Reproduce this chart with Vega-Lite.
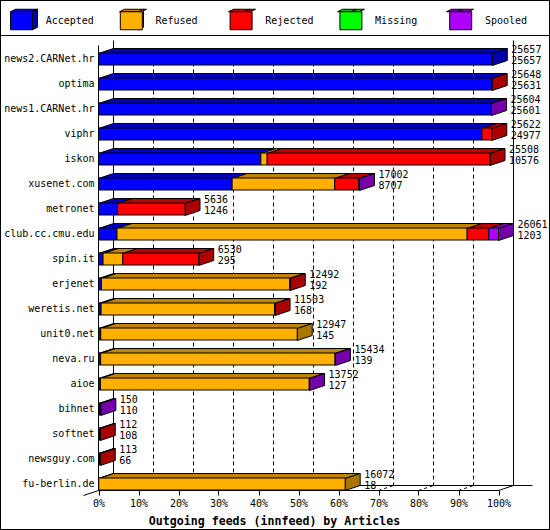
{
"$schema":"https://vega.github.io/schema/vega-lite/v6.json",
"width":550,"height":530,"padding":0,"autosize":"none",
"background":"white",
"view":{"stroke":"black","strokeWidth":2,"fill":"white"},
"config":{"font":"DejaVu Sans Mono"},
"datasets":{
"segments":[
{"feed":"news2.CARNet.hr","row":0,"status":"Accepted","articles":25657},
{"feed":"optima","row":1,"status":"Accepted","articles":25631},
{"feed":"optima","row":1,"status":"Rejected","articles":17},
{"feed":"news1.CARNet.hr","row":2,"status":"Accepted","articles":25601},
{"feed":"news1.CARNet.hr","row":2,"status":"Spooled","articles":3},
{"feed":"viphr","row":3,"status":"Accepted","articles":24977},
{"feed":"viphr","row":3,"status":"Rejected","articles":645},
{"feed":"iskon","row":4,"status":"Accepted","articles":10576},
{"feed":"iskon","row":4,"status":"Refused","articles":414},
{"feed":"iskon","row":4,"status":"Rejected","articles":14518},
{"feed":"xusenet.com","row":5,"status":"Accepted","articles":8707},
{"feed":"xusenet.com","row":5,"status":"Refused","articles":6689},
{"feed":"xusenet.com","row":5,"status":"Rejected","articles":1564},
{"feed":"xusenet.com","row":5,"status":"Spooled","articles":42},
{"feed":"metronet","row":6,"status":"Accepted","articles":1246},
{"feed":"metronet","row":6,"status":"Rejected","articles":4390},
{"feed":"club.cc.cmu.edu","row":7,"status":"Accepted","articles":1203},
{"feed":"club.cc.cmu.edu","row":7,"status":"Refused","articles":22817},
{"feed":"club.cc.cmu.edu","row":7,"status":"Rejected","articles":1410},
{"feed":"club.cc.cmu.edu","row":7,"status":"Spooled","articles":631},
{"feed":"spin.it","row":8,"status":"Accepted","articles":295},
{"feed":"spin.it","row":8,"status":"Refused","articles":1288},
{"feed":"spin.it","row":8,"status":"Rejected","articles":4947},
{"feed":"erjenet","row":9,"status":"Accepted","articles":192},
{"feed":"erjenet","row":9,"status":"Refused","articles":12280},
{"feed":"erjenet","row":9,"status":"Rejected","articles":20},
{"feed":"weretis.net","row":10,"status":"Accepted","articles":168},
{"feed":"weretis.net","row":10,"status":"Refused","articles":11315},
{"feed":"weretis.net","row":10,"status":"Rejected","articles":20},
{"feed":"unit0.net","row":11,"status":"Accepted","articles":145},
{"feed":"unit0.net","row":11,"status":"Refused","articles":12802},
{"feed":"neva.ru","row":12,"status":"Accepted","articles":139},
{"feed":"neva.ru","row":12,"status":"Refused","articles":15275},
{"feed":"neva.ru","row":12,"status":"Spooled","articles":20},
{"feed":"aioe","row":13,"status":"Accepted","articles":127},
{"feed":"aioe","row":13,"status":"Refused","articles":13605},
{"feed":"aioe","row":13,"status":"Spooled","articles":20},
{"feed":"bihnet","row":14,"status":"Accepted","articles":110},
{"feed":"bihnet","row":14,"status":"Spooled","articles":40},
{"feed":"softnet","row":15,"status":"Accepted","articles":108},
{"feed":"softnet","row":15,"status":"Rejected","articles":4},
{"feed":"newsguy.com","row":16,"status":"Accepted","articles":66},
{"feed":"newsguy.com","row":16,"status":"Rejected","articles":47},
{"feed":"fu-berlin.de","row":17,"status":"Accepted","articles":18},
{"feed":"fu-berlin.de","row":17,"status":"Refused","articles":16054}
],
"feeds":[
{"feed":"news2.CARNet.hr","offered":25657,"accepted":25657},
{"feed":"optima","offered":25648,"accepted":25631},
{"feed":"news1.CARNet.hr","offered":25604,"accepted":25601},
{"feed":"viphr","offered":25622,"accepted":24977},
{"feed":"iskon","offered":25508,"accepted":10576},
{"feed":"xusenet.com","offered":17002,"accepted":8707},
{"feed":"metronet","offered":5636,"accepted":1246},
{"feed":"club.cc.cmu.edu","offered":26061,"accepted":1203},
{"feed":"spin.it","offered":6530,"accepted":295},
{"feed":"erjenet","offered":12492,"accepted":192},
{"feed":"weretis.net","offered":11503,"accepted":168},
{"feed":"unit0.net","offered":12947,"accepted":145},
{"feed":"neva.ru","offered":15434,"accepted":139},
{"feed":"aioe","offered":13752,"accepted":127},
{"feed":"bihnet","offered":150,"accepted":110},
{"feed":"softnet","offered":112,"accepted":108},
{"feed":"newsguy.com","offered":113,"accepted":66},
{"feed":"fu-berlin.de","offered":16072,"accepted":18}
],
"ticks":[{"tick":2606.1},{"tick":5212.2},{"tick":7818.3},{"tick":10424.4},{"tick":13030.5},{"tick":15636.6},{"tick":18242.7},{"tick":20848.8},{"tick":23454.9}],
"one":[{"wall":1}]
},
"resolve":{"scale":{"y":"independent","fill":"independent"},"axis":{"y":"independent"}},
"layer":[
{"data":{"name":"ticks"},
 "mark":{"type":"rule","stroke":"black","strokeWidth":1,"strokeDash":[4,3],"xOffset":15},
 "encoding":{
  "x":{"field":"tick","type":"quantitative","scale":{"domain":[0,26061],"range":[98.5,498.5],"nice":false,"zero":false},
   "axis":{"values":[0,2606.1,5212.2,7818.3,10424.4,13030.5,15636.6,18242.7,20848.8,23454.9,26061],"labelExpr":"round(datum.value/260.61)+'%'","labelFlush":false,"labelOverlap":false,"offset":-40,"grid":false,"domainColor":"black","tickColor":"black","tickSize":5,"labelFont":"DejaVu Sans Mono","labelFontSize":10,"labelColor":"black","labelPadding":3,"title":"Outgoing feeds (innfeed) by Articles","titleFont":"DejaVu Sans Mono","titleFontSize":11.6,"titleFontWeight":"bold","titleColor":"black","titleX":274,"titleY":31,"titleBaseline":"middle","titleAnchor":"middle","zindex":1}},
  "y":{"datum":0.32,"type":"quantitative","scale":{"domain":[0,18],"range":[40.5,490.5],"nice":false,"zero":false},"axis":null},
  "y2":{"datum":17.8}
 }},
{"data":{"name":"ticks"},
 "transform":[{"calculate":"datum.tick+977.29","as":"tickBack"}],
 "mark":{"type":"rule","stroke":"black","strokeWidth":1,"strokeDash":[3,3]},
 "encoding":{
  "x":{"field":"tick","type":"quantitative"},"x2":{"field":"tickBack"},
  "y":{"datum":18,"type":"quantitative","scale":{"domain":[0,18],"range":[40.5,490.5],"nice":false,"zero":false},"axis":null},
  "y2":{"datum":17.8}
 }},
{"data":{"name":"one"},"mark":{"type":"rule","stroke":"black","strokeWidth":1},"encoding":{"x":{"datum":977.29,"type":"quantitative"},
  "y":{"datum":0,"type":"quantitative","scale":{"domain":[0,18],"range":[40.5,490.5],"nice":false,"zero":false},"axis":null},"y2":{"datum":17.8}}},
{"data":{"name":"one"},"mark":{"type":"rule","stroke":"black","strokeWidth":1},"encoding":{"x":{"datum":27038.29,"type":"quantitative"},
  "y":{"datum":0,"type":"quantitative","scale":{"domain":[0,18],"range":[40.5,490.5],"nice":false,"zero":false},"axis":null},"y2":{"datum":17.8}}},
{"data":{"name":"one"},"mark":{"type":"rule","stroke":"black","strokeWidth":1},"encoding":{"x":{"datum":0,"type":"quantitative"},
  "y":{"datum":0.2,"type":"quantitative","scale":{"domain":[0,18],"range":[40.5,490.5],"nice":false,"zero":false},"axis":null},"y2":{"datum":18}}},
{"data":{"name":"one"},"mark":{"type":"rule","stroke":"black","strokeWidth":1},"encoding":{"x":{"datum":977.29,"type":"quantitative"},"x2":{"datum":28276},
  "y":{"datum":17.8,"type":"quantitative","scale":{"domain":[0,18],"range":[40.5,490.5],"nice":false,"zero":false},"axis":null}}},
{"data":{"name":"one"},"mark":{"type":"rule","stroke":"black","strokeWidth":1},"encoding":{"x":{"datum":-977.29,"type":"quantitative"},"x2":{"datum":0},
  "y":{"datum":18.2,"type":"quantitative","scale":{"domain":[0,18],"range":[40.5,490.5],"nice":false,"zero":false},"axis":null},"y2":{"datum":18}}},
{"data":{"name":"one"},"mark":{"type":"rule","stroke":"black","strokeWidth":1},"encoding":{"x":{"datum":26061,"type":"quantitative"},"x2":{"datum":27038.29},
  "y":{"datum":18,"type":"quantitative","scale":{"domain":[0,18],"range":[40.5,490.5],"nice":false,"zero":false},"axis":null},"y2":{"datum":17.8}}},
{"data":{"name":"one"},"mark":{"type":"rule","stroke":"black","strokeWidth":1},"encoding":{
  "y":{"datum":-0.2,"type":"quantitative","scale":{"domain":[0,18],"range":[40.5,490.5],"nice":false,"zero":false},"axis":null}}},
{"data":{"name":"segments"},
 "transform":[
  {"stack":"articles","groupby":["feed"],"sort":[{"field":"status","order":"ascending"}],"as":["a0","a1"]},
  {"calculate":"[0,1]","as":"step"},{"flatten":["step"]},
  {"calculate":"datum.a0+datum.step*977.29","as":"xa"},
  {"calculate":"datum.a1+datum.step*977.29","as":"xb"},
  {"calculate":"datum.row+0.52-0.2*datum.step","as":"yy"}],
 "mark":{"type":"area","orient":"horizontal","stroke":"black","strokeWidth":1},
 "encoding":{
  "x":{"field":"xa","type":"quantitative"},"x2":{"field":"xb"},
  "y":{"field":"yy","type":"quantitative","scale":{"domain":[0,18],"range":[40.5,490.5],"nice":false,"zero":false},"axis":null},
  "detail":[{"field":"feed"},{"field":"status"}],
  "fill":{"field":"status","type":"nominal","scale":{"domain":["Accepted","Refused","Rejected","Missing","Spooled"],"range":["#0000BF","#BF8400","#BF0000","#00BF00","#8300BF"]},
   "legend":{"orient":"none","legendX":11,"legendY":10,"direction":"horizontal","columns":5,"gridAlign":"all","padding":0,"title":null,"symbolType":"M-1.1,-0.9L-0.6,-1.15H1.6L1.1,-0.9Z","symbolSize":400,"symbolStrokeColor":"black","symbolStrokeWidth":1,"symbolOpacity":1,"labelOffset":0,"columnPadding":77,"labelExpr":"''","labelFont":"DejaVu Sans Mono","labelFontSize":10}}
 }},
{"data":{"name":"segments"},
 "transform":[
  {"stack":"articles","groupby":["feed"],"sort":[{"field":"status","order":"ascending"}],"as":["a0","a1"]},
  {"joinaggregate":[{"op":"max","field":"a1","as":"end"}],"groupby":["feed"]},
  {"filter":"datum.a1==datum.end"},
  {"calculate":"[0,1]","as":"step"},{"flatten":["step"]},
  {"calculate":"datum.a1+datum.step*977.29","as":"xs"},
  {"calculate":"datum.row+0.52-0.2*datum.step","as":"yt"},
  {"calculate":"datum.row+1-0.2*datum.step","as":"yb"}],
 "mark":{"type":"area","orient":"vertical","stroke":"black","strokeWidth":1},
 "encoding":{
  "x":{"field":"xs","type":"quantitative"},
  "y":{"field":"yt","type":"quantitative","scale":{"domain":[0,18],"range":[40.5,490.5],"nice":false,"zero":false},"axis":null},"y2":{"field":"yb"},
  "detail":[{"field":"feed"},{"field":"status"}],
  "fill":{"field":"status","type":"nominal","scale":{"domain":["Accepted","Refused","Rejected","Missing","Spooled"],"range":["#0000AA","#AB7600","#AA0000","#00AA00","#7500AA"]},
   "legend":{"orient":"none","legendX":11,"legendY":10,"direction":"horizontal","columns":5,"gridAlign":"all","padding":0,"title":null,"symbolType":"M1.1,-0.9L1.6,-1.15V0.65L1.1,0.9Z","symbolSize":400,"symbolStrokeColor":"black","symbolStrokeWidth":1,"symbolOpacity":1,"labelOffset":0,"columnPadding":77,"labelExpr":"''","labelFont":"DejaVu Sans Mono","labelFontSize":10}}
 }},
{"data":{"name":"segments"},
 "transform":[{"stack":"articles","groupby":["feed"],"sort":[{"field":"status","order":"ascending"}],"as":["a0","a1"]}],
 "mark":{"type":"bar","height":12,"yOffset":6.5,"stroke":"black","strokeWidth":1},
 "encoding":{
  "x":{"field":"a0","type":"quantitative"},"x2":{"field":"a1"},
  "y":{"field":"feed","type":"nominal","sort":null,"scale":{"domain":["news2.CARNet.hr","optima","news1.CARNet.hr","viphr","iskon","xusenet.com","metronet","club.cc.cmu.edu","spin.it","erjenet","weretis.net","unit0.net","neva.ru","aioe","bihnet","softnet","newsguy.com","fu-berlin.de"],"range":[40,490],"paddingInner":0,"paddingOuter":0},
   "axis":{"orient":"left","offset":-94,"domain":false,"ticks":false,"labelPadding":0,"labelOffset":6.5,"labelFont":"DejaVu Sans Mono","labelFontSize":10,"labelColor":"black","title":null,"labelLimit":200,"grid":false}},
  "fill":{"field":"status","type":"nominal","scale":{"domain":["Accepted","Refused","Rejected","Missing","Spooled"],"range":["#0000FF","#FFB000","#FF0000","#00FF00","#AF00FF"]},
   "legend":{"orient":"none","legendX":11,"legendY":10,"direction":"horizontal","columns":5,"gridAlign":"all","padding":0,"title":null,"symbolType":"M-1.1,-0.9H1.1V0.9H-1.1Z","symbolSize":400,"symbolStrokeColor":"black","symbolStrokeWidth":1,"symbolOpacity":1,"labelOffset":13.7,"columnPadding":23.8,"labelFont":"DejaVu Sans Mono","labelFontSize":10,"labelColor":"black"}}
 }},
{"data":{"name":"feeds"},
 "mark":{"type":"text","align":"left","baseline":"middle","dx":19,"dy":-2.5,"font":"DejaVu Sans Mono","fontSize":10,"fill":"black"},
 "encoding":{
  "x":{"field":"offered","type":"quantitative"},
  "y":{"field":"feed","type":"nominal","sort":null,"scale":{"domain":["news2.CARNet.hr","optima","news1.CARNet.hr","viphr","iskon","xusenet.com","metronet","club.cc.cmu.edu","spin.it","erjenet","weretis.net","unit0.net","neva.ru","aioe","bihnet","softnet","newsguy.com","fu-berlin.de"],"range":[40,490],"paddingInner":0,"paddingOuter":0},"axis":null},
  "text":{"field":"offered","type":"quantitative","format":"d"}
 }},
{"data":{"name":"feeds"},
 "mark":{"type":"text","align":"left","baseline":"middle","dx":19,"dy":8.5,"font":"DejaVu Sans Mono","fontSize":10,"fill":"black"},
 "encoding":{
  "x":{"field":"offered","type":"quantitative"},
  "y":{"field":"feed","type":"nominal","sort":null,"scale":{"domain":["news2.CARNet.hr","optima","news1.CARNet.hr","viphr","iskon","xusenet.com","metronet","club.cc.cmu.edu","spin.it","erjenet","weretis.net","unit0.net","neva.ru","aioe","bihnet","softnet","newsguy.com","fu-berlin.de"],"range":[40,490],"paddingInner":0,"paddingOuter":0},"axis":null},
  "text":{"field":"accepted","type":"quantitative","format":"d"}
 }}
]
}
